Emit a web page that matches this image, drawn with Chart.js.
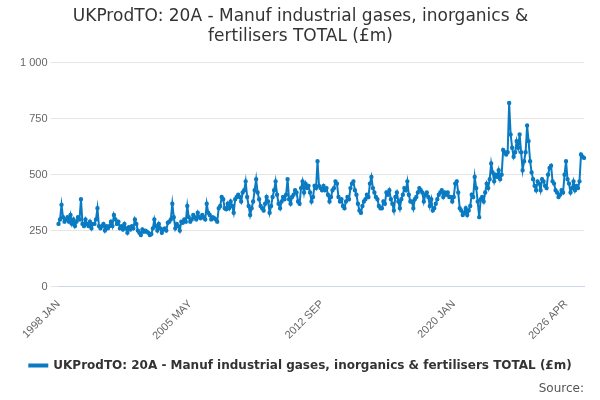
<!DOCTYPE html>
<html><head><meta charset="utf-8">
<script src="https://cdn.jsdelivr.net/npm/chart.js@4/dist/chart.umd.min.js"></script>
<style>body{margin:0;background:#fff;font-family:"Open Sans",sans-serif}#wrap{width:600px;height:400px;position:relative}</style>
</head><body><div id="wrap"><canvas id="c"></canvas></div>
<script>
// monthly values, 1998 JAN .. 2026 APR (£m)
const values = [
  280,300,365,310,290,300,310,290,320,280,300,270,
  290,310,300,390,280,270,300,280,270,290,260,280,
  280,300,350,270,260,270,280,250,270,260,270,290,
  270,320,300,280,290,260,270,255,280,260,240,265,
  255,270,260,300,280,250,240,230,255,245,250,245,
  240,230,235,260,300,270,250,280,260,240,255,260,
  250,285,290,300,370,310,260,280,270,250,290,285,
  300,290,360,310,290,300,320,310,300,330,310,305,
  320,310,300,370,330,320,300,310,305,300,290,350,
  360,400,390,350,345,370,350,380,360,330,390,400,
  410,400,380,420,430,470,400,360,320,350,380,430,
  480,420,390,360,350,340,370,400,380,330,360,400,
  430,470,410,370,350,380,400,390,410,480,390,370,
  400,410,430,420,380,370,440,470,420,460,440,450,
  420,380,400,450,440,560,450,440,430,450,430,440,
  410,380,400,430,440,470,460,400,380,390,360,350,
  380,400,390,440,460,470,430,410,370,340,330,360,
  380,390,410,400,460,490,440,420,400,390,360,350,
  350,380,370,420,410,430,390,370,340,400,420,380,
  350,390,410,440,430,470,410,380,380,350,390,400,
  420,440,430,420,380,410,420,400,360,390,340,350,
  370,390,410,420,430,400,420,410,420,400,400,380,
  400,460,470,420,350,340,320,330,350,320,340,360,
  410,400,490,440,380,310,390,400,380,420,460,440,
  480,550,510,470,500,490,520,480,500,610,600,590,
  600,820,680,620,580,600,650,620,680,600,520,560,
  600,720,650,560,510,480,450,430,470,460,430,480,
  470,450,440,500,530,540,470,460,430,420,400,410,
  430,420,500,560,480,460,420,440,470,430,450,440,
  470,590,580,575
];
const labels = [];
const mon = ['JAN','FEB','MAR','APR','MAY','JUN','JUL','AUG','SEP','OCT','NOV','DEC'];
for (let i = 0; i < values.length; i++) labels.push((1998 + Math.floor(i / 12)) + ' ' + mon[i % 12]);
const tickLabels = ['1998 JAN','2005 MAY','2012 SEP','2020 JAN','2026 APR'];
const tickIdx = tickLabels.map(t => labels.indexOf(t));

new Chart(document.getElementById('c'), {
  type: 'line',
  data: { labels, datasets: [{
    label: 'UKProdTO: 20A - Manuf industrial gases, inorganics & fertilisers TOTAL (£m)',
    data: values, borderColor: '#0a7bc2', backgroundColor: '#0a7bc2',
    borderWidth: 2, pointRadius: 1.2, pointHoverRadius: 3, tension: 0
  }]},
  options: {
    responsive: true, maintainAspectRatio: false, animation: false,
    layout: { padding: { left: 17, right: 16, top: 4, bottom: 4 } },
    plugins: {
      title: { display: true, text: ['UKProdTO: 20A - Manuf industrial gases, inorganics &', 'fertilisers TOTAL (£m)'],
        color: '#333', font: { size: 17, weight: 'normal', family: 'DejaVu Sans' }, padding: { top: 2, bottom: 16 } },
      legend: { position: 'bottom', labels: { color: '#333', font: { size: 12, weight: 'bold', family: 'DejaVu Sans' }, boxWidth: 18, boxHeight: 2, padding: 14 } },
      subtitle: { display: true, position: 'bottom', align: 'end', text: 'Source:', color: '#555', font: { size: 12, family: 'DejaVu Sans' }, padding: 0 }
    },
    scales: {
      x: { grid: { display: false }, border: { color: '#ccd6eb' },
        ticks: { autoSkip: false, maxRotation: 45, minRotation: 45, color: '#666', font: { size: 11 },
          callback: (v, i) => tickIdx.includes(i) ? labels[i] : null } },
      y: { min: 0, max: 1000, border: { display: false }, grid: { color: '#e6e6e6' },
        ticks: { stepSize: 250, color: '#666', font: { size: 11 },
          callback: v => v === 1000 ? '1 000' : v } }
    }
  }
});
</script></body></html>
